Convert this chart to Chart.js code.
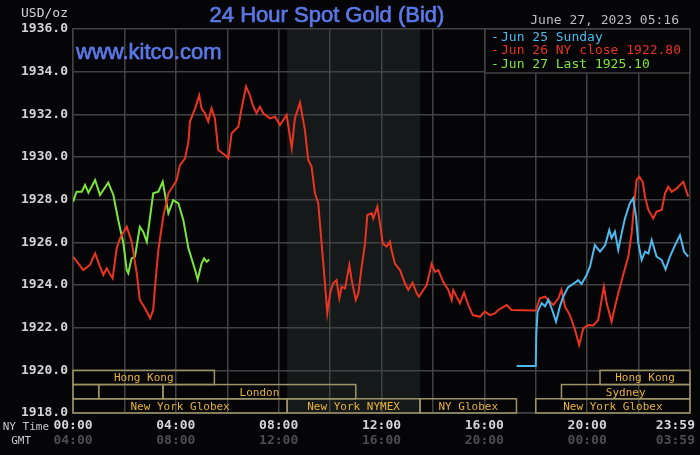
<!DOCTYPE html>
<html>
<head>
<meta charset="utf-8">
<script src="https://cdn.jsdelivr.net/npm/chart.js@4.4.0/dist/chart.umd.min.js"></script>
<style>
  html, body { margin: 0; padding: 0; background: #050407; }
  #wrap { width: 700px; height: 455px; position: relative; }
</style>
</head>
<body>
<div id="wrap"><canvas id="gold"></canvas></div>
<script>
// hours since 00:00 NY time, and bid prices
const sunHours = [17.26, 18.0, 18.02, 18.07, 18.23, 18.36, 18.49, 18.62, 18.79, 18.94, 19.07, 19.26, 19.46, 19.65, 19.78, 19.98,
  20.11, 20.3, 20.5, 20.7, 20.86, 20.95, 21.08, 21.21, 21.34, 21.47, 21.66, 21.79, 21.9, 21.99, 22.12, 22.25, 22.38, 22.51,
  22.7, 22.9, 23.05, 23.22, 23.42, 23.61, 23.77, 23.93]
const sunPrices = [1920.2, 1920.2, 1921.7, 1922.75, 1923.15, 1923.0, 1923.3, 1922.9, 1922.28, 1923.0, 1923.45, 1923.9, 1924.05, 1924.23, 1924.05, 1924.47,
  1924.86, 1925.87, 1925.56, 1925.87, 1926.58, 1926.2, 1926.5, 1925.64, 1926.42, 1927.12, 1927.83, 1928.06, 1927.2, 1925.95, 1925.17, 1925.56, 1925.48, 1926.11,
  1925.33, 1925.17, 1924.73, 1925.33, 1925.87, 1926.34, 1925.56, 1925.33]

const monHours = [0, 0.21, 0.4, 0.66, 0.86, 1.05, 1.18, 1.31, 1.54, 1.7, 1.83, 2.09, 2.28, 2.48, 2.6, 2.8, 3.0, 3.12, 3.19, 3.32,
  3.51, 3.71, 4.03, 4.16, 4.36, 4.49, 4.55, 4.75, 4.91, 5.0, 5.13, 5.26, 5.39, 5.52, 5.65, 5.91, 6.04, 6.17, 6.43, 6.56,
  6.73, 6.88, 6.99, 7.14, 7.27, 7.4, 7.66, 7.86, 8.05, 8.31, 8.51, 8.63, 8.83, 9.02, 9.15, 9.28, 9.41, 9.54, 9.67, 9.8,
  9.89, 10.0, 10.12, 10.25, 10.36, 10.45, 10.58, 10.75, 10.84, 11.0, 11.1, 11.23, 11.36, 11.45, 11.62, 11.68, 11.84, 11.94, 12.05, 12.2,
  12.33, 12.39, 12.52, 12.72, 12.91, 13.04, 13.21, 13.37, 13.46, 13.63, 13.76, 13.95, 14.08, 14.21, 14.4, 14.6, 14.73, 14.79, 15.05, 15.21,
  15.38, 15.55, 15.83, 16.02, 16.22, 16.41, 16.54, 16.87, 17.06, 18.0, 18.16, 18.36, 18.55, 18.68, 18.88, 19.0, 19.14, 19.33, 19.53, 19.69,
  19.85, 20.04, 20.24, 20.43, 20.56, 20.65, 20.76, 20.95, 21.08, 21.21, 21.4, 21.6, 21.73, 21.82, 21.92, 22.03, 22.16, 22.25, 22.38, 22.57,
  22.7, 22.9, 23.03, 23.15, 23.29, 23.48, 23.74, 23.93]
const monPrices = [1925.33, 1925.0, 1924.7, 1924.94, 1925.48, 1924.86, 1924.47, 1924.78, 1924.31, 1925.72, 1926.19, 1926.73, 1926.03, 1924.55, 1923.3, 1922.91, 1922.44, 1922.83, 1923.92, 1925.64,
  1927.2, 1928.3, 1928.9, 1929.62, 1929.94, 1930.72, 1931.66, 1932.28, 1932.9, 1932.28, 1932.05, 1931.66, 1932.28, 1931.81, 1930.33, 1930.09, 1929.94, 1931.11, 1931.42, 1932.28,
  1933.3, 1932.9, 1932.44, 1932.05, 1932.36, 1932.05, 1931.81, 1931.89, 1931.5, 1931.97, 1930.41, 1931.81, 1932.55, 1931.27, 1929.86, 1929.55, 1928.3, 1927.83, 1925.95, 1924.08,
  1922.67, 1923.61, 1924.08, 1924.23, 1923.38, 1923.92, 1923.84, 1924.94, 1924.23, 1923.3, 1923.61, 1924.86, 1925.95, 1927.28, 1927.36, 1927.12, 1927.67, 1926.89, 1925.95, 1925.8,
  1926.03, 1925.64, 1925.0, 1924.7, 1924.08, 1923.77, 1924.11, 1923.61, 1923.45, 1923.77, 1924.0, 1925.0, 1924.62, 1924.7, 1924.15, 1923.77, 1923.3, 1923.77, 1923.14, 1923.64,
  1923.06, 1922.59, 1922.51, 1922.75, 1922.59, 1922.67, 1922.83, 1923.06, 1922.83, 1922.8, 1923.38, 1923.45, 1923.22, 1923.06, 1923.38, 1923.77, 1922.98, 1922.59, 1921.89, 1921.19,
  1921.97, 1922.12, 1922.1, 1922.36, 1923.3, 1923.92, 1923.14, 1922.28, 1922.98, 1923.61, 1924.47, 1925.33, 1926.42, 1927.67, 1928.92, 1929.08, 1928.84, 1928.14, 1927.52, 1927.12,
  1927.44, 1927.52, 1928.3, 1928.61, 1928.37, 1928.53, 1928.84, 1928.14]

const tueHours = [0, 0.14, 0.34, 0.47, 0.6, 0.86, 1.05, 1.37, 1.57, 1.76, 1.96, 2.09, 2.15, 2.28, 2.41, 2.6, 2.73, 2.87, 3.0, 3.12,
  3.32, 3.49, 3.64, 3.71, 3.9, 4.1, 4.29, 4.49, 4.75, 4.85, 5.0, 5.1, 5.2, 5.3]
const tuePrices = [1927.9, 1928.37, 1928.37, 1928.69, 1928.33, 1928.92, 1928.22, 1928.8, 1928.22, 1927.05, 1925.95, 1924.7, 1924.55, 1925.25, 1925.33, 1926.73, 1926.5, 1926.03, 1927.2, 1928.3,
  1928.37, 1928.84, 1927.83, 1927.36, 1927.98, 1927.83, 1927.05, 1925.72, 1924.7, 1924.26, 1925.0, 1925.25, 1925.09, 1925.2]

const seriesNames = ['Jun 25 Sunday', 'Jun 26 NY close 1922.80', 'Jun 27 Last 1925.10']
const seriesColors = ['#4db9ee', '#ea3420', '#7de63c']

// x axis labels (every 4 hours)
const tickHours = [0, 4, 8, 12, 16, 20, 24]
const nyLabels = ['00:00', '04:00', '08:00', '12:00', '16:00', '20:00', '23:59']
const gmtLabels = ['04:00', '08:00', '12:00', '16:00', '20:00', '00:00', '03:59']

// trading sessions (row 0 = top band)
const sessionNames = ['Hong Kong', '', '', 'London', 'New York Globex', 'New York NYMEX', 'NY Globex', 'Hong Kong', 'Sydney', 'New York Globex']
const sessionStart = [0, 0, 1, 3.5, 0, 8.33, 13.5, 20.5, 19, 18]
const sessionEnd = [5.5, 1, 3.5, 11, 8.33, 13.5, 17.25, 24, 24, 24]
const sessionRow = [0, 1, 1, 1, 2, 2, 2, 0, 1, 2]
const nymexOpen = 8.33, nymexClose = 13.5

const gridColor = '#424242'
const mono = '"DejaVu Sans Mono", monospace'

function toPoints(hours, prices) {
    return hours.map((h, i) => ({x: h, y: prices[i]}))
}

// filled text with a thin outline in the same colour, to get the heavier look
function heavyText(ctx, txt, x, y) {
    ctx.fillText(txt, x, y)
    ctx.strokeText(txt, x, y)
}

const decor = {
    id: 'kitcoDecor',
    beforeDraw(chart) {
        const {ctx, chartArea, scales} = chart
        ctx.save()
        ctx.fillStyle = '#16191a'
        const x1 = scales.x.getPixelForValue(nymexOpen)
        const x2 = scales.x.getPixelForValue(nymexClose)
        ctx.fillRect(x1, chartArea.top, x2 - x1, chartArea.bottom - chartArea.top)
        ctx.restore()
    },
    afterDatasetsDraw(chart) {
        const {ctx, chartArea, scales} = chart
        const xs = scales.x, ys = scales.y
        ctx.save()
        // session boxes
        ctx.strokeStyle = '#9c9466'
        ctx.lineWidth = 1.5
        ctx.font = '11px ' + mono
        ctx.textAlign = 'center'
        ctx.textBaseline = 'middle'
        sessionNames.forEach((name, i) => {
            const x1 = xs.getPixelForValue(sessionStart[i])
            const x2 = xs.getPixelForValue(sessionEnd[i])
            const y1 = ys.getPixelForValue(1920 - sessionRow[i] * 2 / 3)
            const y2 = ys.getPixelForValue(1920 - (sessionRow[i] + 1) * 2 / 3)
            ctx.strokeRect(x1, y1, x2 - x1, y2 - y1)
            if (name) {
                ctx.fillStyle = '#e6b436'
                ctx.fillText(name, (x1 + x2) / 2, (y1 + y2) / 2 + 1)
            }
        })
        // legend box
        const lx = 485, ly = chartArea.top, lh = 44
        ctx.fillStyle = '#050407'
        ctx.fillRect(lx, ly, chartArea.right - lx, lh)
        ctx.strokeStyle = gridColor
        ctx.strokeRect(lx, ly, chartArea.right - lx, lh)
        ctx.font = '13px ' + mono
        ctx.textAlign = 'left'
        chart.data.datasets.forEach((ds, i) => {
            const y = ly + 8.5 + i * 13.6
            ctx.fillStyle = ds.borderColor
            ctx.fillText('-', 491, y)
            ctx.fillText(ds.label, 501, y)
        })
        ctx.restore()
    },
    afterDraw(chart) {
        const {ctx, chartArea, scales} = chart
        ctx.save()
        ctx.textBaseline = 'middle'
        // title and site
        ctx.fillStyle = '#5b78e8'
        ctx.strokeStyle = '#5b78e8'
        ctx.lineWidth = 0.7
        ctx.font = '22px "Liberation Sans", Arial, sans-serif'
        ctx.textAlign = 'center'
        heavyText(ctx, '24 Hour Spot Gold (Bid)', 327, 16)
        ctx.textAlign = 'left'
        heavyText(ctx, 'www.kitco.com', 76, 53)
        // date and unit
        ctx.font = '13px ' + mono
        ctx.fillStyle = '#bdbdbd'
        ctx.textAlign = 'right'
        ctx.fillText('June 27, 2023 05:16', 679, 21)
        ctx.fillStyle = '#d4d4d4'
        ctx.fillText('USD/oz', 68, 14)
        // time axis labels
        ctx.font = '11px ' + mono
        ctx.fillStyle = '#c8c8c8'
        ctx.fillText('NY Time', 49, chartArea.bottom + 14)
        ctx.fillText('GMT', 31, chartArea.bottom + 28)
        ctx.textAlign = 'center'
        ctx.font = 'bold 13px ' + mono
        tickHours.forEach((h, i) => {
            let px = scales.x.getPixelForValue(h)
            const w = ctx.measureText(nyLabels[i]).width
            px = Math.min(px, chart.width - 5 - w / 2)
            ctx.fillStyle = '#d4d4d4'
            ctx.fillText(nyLabels[i], px, chartArea.bottom + 13)
            ctx.fillStyle = '#4e4e4e'
            ctx.fillText(gmtLabels[i], px, chartArea.bottom + 28)
        })
        ctx.restore()
    }
}

const cvs = document.getElementById('gold')
new Chart(cvs, {
    type: 'line',
    data: {
        datasets: [
            {label: seriesNames[0], data: toPoints(sunHours, sunPrices), borderColor: seriesColors[0]},
            {label: seriesNames[1], data: toPoints(monHours, monPrices), borderColor: seriesColors[1]},
            {label: seriesNames[2], data: toPoints(tueHours, tuePrices), borderColor: seriesColors[2]}
        ]
    },
    options: {
        responsive: true,
        maintainAspectRatio: false,
        animation: false,
        layout: {padding: {top: 29, right: 10, left: 0, bottom: 0}},
        elements: {
            line: {borderWidth: 2, tension: 0},
            point: {radius: 0}
        },
        plugins: {
            legend: {display: false},
            tooltip: {enabled: false}
        },
        scales: {
            x: {
                type: 'linear', min: 0, max: 24,
                ticks: {stepSize: 2, display: false},
                grid: {color: gridColor, lineWidth: 1.5, drawTicks: false},
                border: {color: gridColor, width: 1.5},
                afterFit: s => { s.height = 42 }
            },
            y: {
                min: 1918, max: 1936,
                ticks: {
                    stepSize: 2, padding: 5, color: '#d4d4d4',
                    font: {family: mono, size: 13, weight: 'bold'},
                    callback: v => v.toFixed(1)
                },
                grid: {color: gridColor, lineWidth: 1.5, drawTicks: false},
                border: {color: gridColor, width: 1.5},
                afterFit: s => { s.width = 73 }
            }
        }
    },
    plugins: [decor]
})
</script>
</body>
</html>
